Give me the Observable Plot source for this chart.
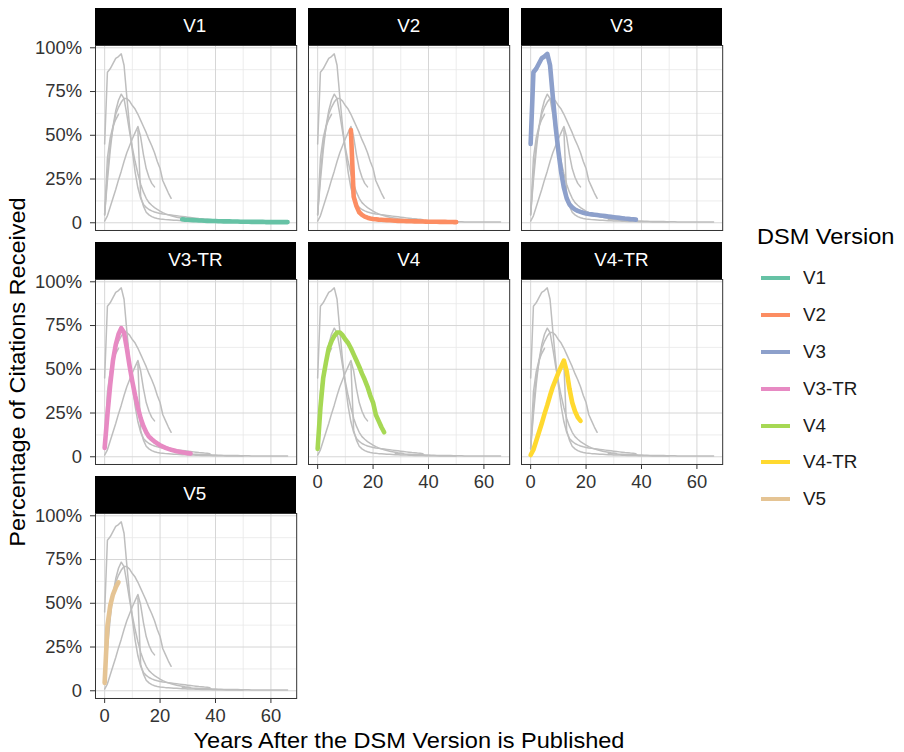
<!DOCTYPE html>
<html>
<head>
<meta charset="utf-8">
<script src="https://cdn.jsdelivr.net/npm/d3@7"></script>
<script src="https://cdn.jsdelivr.net/npm/@observablehq/plot@0.6"></script>
<style>
  body { margin: 0; background: #fff; }
  #chart { position: relative; width: 904px; height: 752px; overflow: hidden; background: #fff;
           font-family: "Liberation Sans", Arial, Helvetica, sans-serif; color: #1a1a1a; }
  .strip { position: absolute; background: #000; color: #fff; font-size: 17.6px; text-align: center; }
  .strip span { display: inline-block; transform: scaleX(1.07); }
  .title { position: absolute; font-size: 22px; height: 26px; line-height: 26px; white-space: nowrap; color: #000; }
  .lgtext { position: absolute; font-size: 17.6px; height: 20px; line-height: 20px; color: #1a1a1a; white-space: nowrap;
            transform: scaleX(1.07); transform-origin: left center; }
  .lgkey { position: absolute; height: 4px; }
</style>
</head>
<body>
<div id="chart"></div>
<script>
// ---------- data ----------
const versions = ["V1", "V2", "V3", "V3-TR", "V4", "V4-TR", "V5"];
const colors = ["#66c2a5", "#fc8d62", "#8da0cb", "#e78ac3", "#a6d854", "#ffd92f", "#e5c494"];
// first "years after publication" value of each series
const startYear = [28, 12, 0, 0, 0, 0, 0];
// percentage of citations received, one value per year
const v1 = [2.0, 1.8, 1.7, 1.6, 1.5, 1.4, 1.3, 1.3, 1.2, 1.1, 1.1, 1.0, 1.0, 0.9, 0.9, 0.8, 0.8, 0.8, 0.7, 0.7,
            0.7, 0.6, 0.6, 0.6, 0.6, 0.5, 0.5, 0.5, 0.5, 0.5, 0.4, 0.4, 0.4, 0.4, 0.4, 0.4, 0.4, 0.4, 0.4];
const v2 = [53, 15, 9.5, 6, 4.5, 3.5, 2.9, 2.5, 2.2, 2.0, 1.8, 1.7, 1.6, 1.5, 1.4, 1.3, 1.2, 1.1, 1.0, 1.0,
            0.95, 0.9, 0.85, 0.8, 0.8, 0.75, 0.7, 0.65, 0.6, 0.6, 0.55, 0.55, 0.5, 0.5, 0.5, 0.45, 0.45, 0.4, 0.4];
const v3 = [45, 86, 88, 91, 94, 95, 96.5, 90, 72, 55, 41, 29, 20, 14, 10.5, 8.8, 7.6, 6.8, 6.2, 5.7,
            5.3, 5.0, 4.8, 4.6, 4.4, 4.2, 4.0, 3.8, 3.6, 3.4, 3.2, 3.0, 2.8, 2.6, 2.4, 2.3, 2.1, 2.0, 1.8];
const v3tr = [5, 24, 41, 55, 64, 70, 73.5, 71, 62, 52, 43, 35, 28, 22, 17.5, 14, 11.5, 10, 8.7, 7.6,
              6.6, 5.8, 5.1, 4.5, 4.0, 3.6, 3.2, 2.9, 2.6, 2.3, 2.1, 1.9];
const v4 = [4.5, 28, 45, 54, 62, 66, 69, 71, 71, 69.5, 67, 65, 62, 58.5, 55, 51.5, 47.5, 44, 40, 35,
            31, 24, 20.5, 17, 14];
const v4tr = [1, 4, 9, 14, 19, 24.5, 29.5, 35, 40, 44, 48, 51.5, 55, 49, 39, 31, 26, 22.5, 20.5];
const v5 = [4.5, 37, 48.5, 55, 59, 62];
const seriesValues = [v1, v2, v3, v3tr, v4, v4tr, v5];

// ticks
const xTicks = [0, 20, 40, 60];
const xTickLabels = ["0", "20", "40", "60"];
const xMinor = [10, 30, 50];
const yTicks = [0, 0.25, 0.5, 0.75, 1];
const yTickLabels = ["0", "25%", "50%", "75%", "100%"];
const yMinor = [0.125, 0.375, 0.625, 0.875];

// facet wrap placement
const panelCol = [0, 1, 2, 0, 1, 2, 0];
const panelRow = [0, 0, 0, 1, 1, 1, 2];
const bottomPanels = ["V4", "V4-TR", "V5"];

// ---------- table ----------
const rows = versions.flatMap((v, i) =>
  seriesValues[i].map((p, j) => ({version: v, year: startYear[i] + j, share: p / 100})));

const xExt = d3.extent(rows, d => d.year);
const yExt = d3.extent(rows, d => d.share);
const xPad = 0.05 * (xExt[1] - xExt[0]);
const yPad = 0.05 * (yExt[1] - yExt[0]);
const xDomain = [xExt[0] - xPad, xExt[1] + xPad];
const yDomain = [yExt[0] - yPad, yExt[1] + yPad];

// ---------- layout ----------
const colLeft = [94.5, 307.8, 521];
const rowTop = [45, 279.3, 513.3];
const panelW = 201.2, panelH = 185, stripH = 37;

const chart = document.getElementById("chart");
const fontFamily = '"Liberation Sans", Arial, Helvetica, sans-serif';

versions.forEach((v, i) => {
  const c = panelCol[i], r = panelRow[i];
  const isLeft = c === 0;
  const isBottom = bottomPanels.includes(v);
  const mL = isLeft ? 80 : 2, mR = 2, mT = 2, mB = isBottom ? 32 : 2;
  const plot = Plot.plot({
    width: panelW + mL + mR,
    height: panelH + mT + mB,
    marginLeft: mL, marginRight: mR, marginTop: mT, marginBottom: mB,
    style: {background: "transparent", color: "#333", fontSize: "18.4px", fontFamily, overflow: "visible"},
    x: isBottom
      ? {domain: xDomain, ticks: xTicks, tickFormat: d => xTickLabels[xTicks.indexOf(d)], tickSize: 5, tickPadding: 5.5, label: null}
      : {domain: xDomain, axis: null},
    y: isLeft
      ? {domain: yDomain, ticks: yTicks, tickFormat: d => yTickLabels[yTicks.indexOf(d)], tickSize: 5, tickPadding: 8.4, label: null}
      : {domain: yDomain, axis: null},
    marks: [
      Plot.ruleX(xMinor, {stroke: "#e9e9e9", strokeWidth: 0.8}),
      Plot.ruleY(yMinor, {stroke: "#e9e9e9", strokeWidth: 0.8}),
      Plot.ruleX(xTicks, {stroke: "#d6d6d6", strokeWidth: 1}),
      Plot.ruleY(yTicks, {stroke: "#d6d6d6", strokeWidth: 1}),
      Plot.line(rows, {x: "year", y: "share", z: "version", stroke: "#bebebe", strokeWidth: 1.5}),
      Plot.line(rows.filter(d => d.version === v), {x: "year", y: "share", stroke: colors[i], strokeWidth: 4.6}),
      Plot.frame({stroke: "#333", strokeWidth: 1})
    ]
  });
  plot.style.position = "absolute";
  plot.style.left = (colLeft[c] - mL) + "px";
  plot.style.top = (rowTop[r] - mT) + "px";
  chart.appendChild(plot);

  const strip = document.createElement("div");
  strip.className = "strip";
  strip.style.left = colLeft[c] + "px";
  strip.style.top = (rowTop[r] - stripH) + "px";
  strip.style.width = panelW + "px";
  strip.style.height = stripH + "px";
  strip.style.lineHeight = stripH + "px";
  const span = document.createElement("span");
  span.textContent = v;
  strip.appendChild(span);
  chart.appendChild(strip);
});

// axis titles
const xTitle = document.createElement("div");
xTitle.className = "title";
xTitle.style.left = (408.5 - 300) + "px";
xTitle.style.width = "600px";
xTitle.style.textAlign = "center";
xTitle.style.top = "728.4px";
xTitle.style.transform = "scaleX(1.07)";
xTitle.textContent = "Years After the DSM Version is Published";
chart.appendChild(xTitle);

const yTitle = document.createElement("div");
yTitle.className = "title";
yTitle.style.left = (17.8 - 250) + "px";
yTitle.style.width = "500px";
yTitle.style.textAlign = "center";
yTitle.style.top = (371.5 - 13) + "px";
yTitle.style.transform = "rotate(-90deg) scaleX(1.07)";
yTitle.textContent = "Percentage of Citations Received";
chart.appendChild(yTitle);

// legend
const lgTitle = document.createElement("div");
lgTitle.className = "title";
lgTitle.style.left = "756.5px";
lgTitle.style.top = "224.4px";
lgTitle.style.transform = "scaleX(1.07)";
lgTitle.style.transformOrigin = "left center";
lgTitle.textContent = "DSM Version";
chart.appendChild(lgTitle);

versions.forEach((v, i) => {
  const cy = 278.3 + i * 36.8;
  const key = document.createElement("div");
  key.className = "lgkey";
  key.style.left = "760.7px";
  key.style.width = "29.3px";
  key.style.top = (cy - 2) + "px";
  key.style.background = colors[i];
  chart.appendChild(key);
  const t = document.createElement("div");
  t.className = "lgtext";
  t.style.left = "803px";
  t.style.top = (cy - 10) + "px";
  t.textContent = v;
  chart.appendChild(t);
});
</script>
</body>
</html>
